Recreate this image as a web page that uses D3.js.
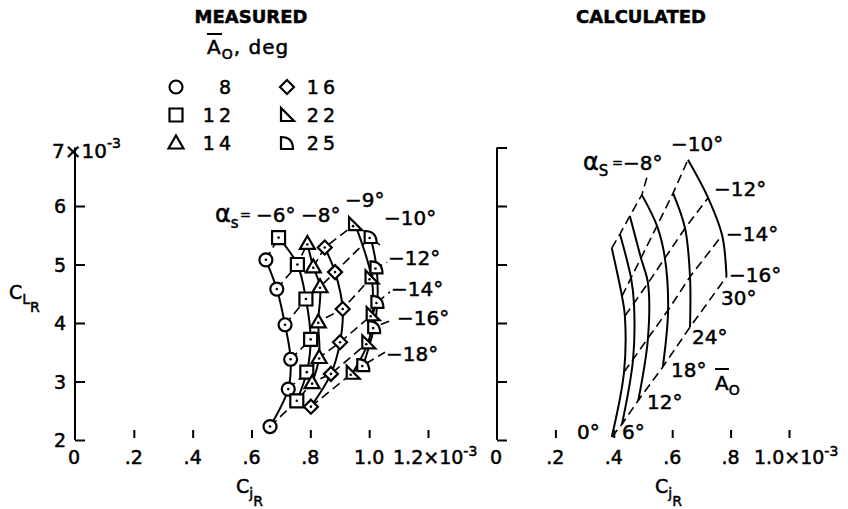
<!DOCTYPE html>
<meta charset="utf-8">
<title>Measured and calculated C_L vs C_j</title>
<style>
body { margin: 0; background: #fff; }
svg { font-family: "DejaVu Sans", sans-serif; }
text { fill: #000; stroke: #000; stroke-width: 0.5; }
.solid { fill: none; stroke: #000; stroke-width: 2; }
.dash { fill: none; stroke: #000; stroke-width: 1.6; stroke-dasharray: 9,5; }
.axis path, .axis line { stroke: #000; stroke-width: 2; }
</style>

<svg width="848" height="509"></svg>
<script src="https://d3js.org/d3.v7.min.js"></script>
<script>

// measured points: [Cj (x10^-3), CL (x10^-3), alpha_s]
var m8  = [[0.649,5.08,-6],[0.686,4.58,-8],[0.714,3.97,-10],[0.733,3.38,-12],[0.725,2.87,-14],[0.663,2.23,-16]];
var m12 = [[0.692,5.46,-6],[0.756,5.00,-8],[0.785,4.41,-10],[0.801,3.72,-12],[0.788,3.16,-14],[0.754,2.67,-16]];
var m14 = [[0.790,5.36,-8],[0.810,4.96,-9],[0.833,4.62,-10],[0.827,4.02,-12],[0.830,3.41,-14],[0.806,2.98,-16]];
var m16 = [[0.849,5.29,-9],[0.884,4.87,-10],[0.910,4.24,-12],[0.901,3.67,-14],[0.870,3.13,-16],[0.802,2.57,-18]];
var m22 = [[0.952,5.69,-9],[1.008,4.78,-12],[1.012,4.15,-14],[0.997,3.67,-16],[0.944,3.15,-18]];
var m25 = [[1.005,5.47,-10],[1.025,4.95,-12],[1.028,4.36,-14],[1.017,3.93,-16],[0.980,3.28,-18]];
var measuredAo = [8, 12, 14, 16, 22, 25];
var measuredSymbols = ["circle", "square", "triangle", "diamond", "rtri", "dee"];
// where the dashed alpha lines run out toward their labels
var measuredLeads = [[-10,1.037,5.33],[-12,1.061,5.04],[-14,1.071,4.53],[-16,1.078,4.05],[-18,1.054,3.50]];

// calculated curves, one per A0: [Cj, CL, alpha_s]
var c0  = [[0.393,5.28,-8],[0.428,4.46,-10],[0.438,4.12,-12],[0.435,3.16,-14],[0.393,2.05,-16]];
var c6  = [[0.421,5.52,-8],[0.459,4.77,-10],[0.469,4.34,-12],[0.466,3.38,-14],[0.428,2.27,-16]];
var c12 = [[0.455,5.83,-8],[0.493,5.11,-10],[0.517,4.68,-12],[0.517,3.74,-14],[0.484,2.68,-16]];
var c18 = [[0.496,6.19,-8],[0.548,5.66,-10],[0.575,5.11,-12],[0.586,4.22,-14],[0.568,3.25,-16]];
var c24 = [[0.603,6.22,-10],[0.644,5.62,-12],[0.661,4.79,-14],[0.661,3.93,-16]];
var c30 = [[0.654,6.79,-10],[0.723,6.14,-12],[0.771,5.50,-14],[0.786,4.79,-16]];
var calcAo = [0, 6, 12, 18, 24, 30];
var calcLeads = [[-8,0.514,6.50]];

var yTicks = [2, 3, 4, 5, 6, 7];
var xTicksLeft = [0, 0.2, 0.4, 0.6, 0.8, 1.0, 1.2];
var xLabelsLeft = ["0", ".2", ".4", ".6", ".8", "1.0", "1.2"];
var xTicksRight = [0, 0.2, 0.4, 0.6, 0.8, 1.0];
var xLabelsRight = ["0", ".2", ".4", ".6", ".8", "1.0"];

var svg = d3.select("svg");

var y = d3.scaleLinear().domain([2, 7]).range([440, 147.5]);
var xL = d3.scaleLinear().domain([0, 1.2]).range([75, 428]);
var xR = d3.scaleLinear().domain([0, 1.0]).range([497, 789]);

// ---- marker shapes
var shapes = {
  circle: "M6.5,0A6.5,6.5 0 1,1 -6.5,0A6.5,6.5 0 1,1 6.5,0Z",
  square: "M-6.5,-6.5H6.5V6.5H-6.5Z",
  triangle: "M0,-7.5L7.5,5.5H-7.5Z",
  diamond: "M0,-7L7,0L0,7L-7,0Z",
  rtri: "M-6,-7V6H7Z",
  dee: "M-6,6V-6Q6,-6 6,6Z"
};
var dotOffset = { circle: [0,0], square: [0,0], triangle: [0,1], diamond: [0,0], rtri: [-2,2], dee: [-1,1] };

function marker(g, type, px, py, dot) {
  g.append("path").attr("d", shapes[type])
    .attr("transform", "translate(" + px + "," + py + ")")
    .attr("fill", "#fff").attr("stroke", "#000").attr("stroke-width", 2.2);
  if (dot) {
    g.append("circle").attr("cx", px + dotOffset[type][0]).attr("cy", py + dotOffset[type][1])
      .attr("r", 1.3).attr("fill", "#000");
  }
}

// text with optional sub/superscript pieces: [[str, size, dy], ...]
function label(x0, y0, parts, anchor) {
  var t = svg.append("text").attr("x", x0).attr("y", y0).attr("text-anchor", anchor || "start");
  parts.forEach(function(p) {
    t.append("tspan").text(p[0]).attr("font-size", p[1]).attr("dy", p[2] || 0);
  });
  return t;
}

// ---- axes
function yAxis(x0, top) {
  var ax = d3.axisRight(y).tickValues(yTicks.filter(function(d) { return d <= top; }))
    .tickSize(10).tickSizeOuter(0).tickFormat("");
  var g = svg.append("g").attr("class", "axis").attr("transform", "translate(" + x0 + ",0)").call(ax);
  g.select(".domain").attr("d", "M0," + y(7) + "V" + y(2));
}
yAxis(xL(0), 6);
yAxis(xR(0), 7);

function xAxis(scale, ticks, labels) {
  var ax = d3.axisBottom(scale).tickValues(ticks.slice(1)).tickSize(8).tickFormat("");
  var g = svg.append("g").attr("class", "axis").attr("transform", "translate(0,430)").call(ax);
  g.select(".domain").remove();
  g.selectAll("line").attr("stroke-width", 1.6);
  ticks.forEach(function(v, i) {
    if (i < ticks.length - 1) {
      label(scale(v) + (i === 0 ? -1 : 0), 464, [[labels[i], 19]], "middle");
    } else {
      label(scale(v) - 35, 464, [[labels[i], 19], ["\u00d710", 19], ["-3", 14, -8]]);
    }
  });
}
xAxis(xL, xTicksLeft, xLabelsLeft);
xAxis(xR, xTicksRight, xLabelsRight);

// y tick labels (left only)
yTicks.slice(0, 5).forEach(function(v) {
  label(66, y(v) + 7, [[String(v), 19]], "end");
});
label(52, 158, [["7\u00d710", 20], ["-3", 14, -10]]);

// axis titles
label(9, 299, [["C", 19], ["L", 14, 5], ["R", 14, 8]]);
label(236, 493, [["C", 19], ["j", 14, 5], ["R", 14, 8]]);
label(655, 493, [["C", 19], ["j", 14, 5], ["R", 14, 8]]);

// headings
label(251, 23, [["MEASURED", 18]], "middle").attr("font-weight", "bold").attr("stroke-width", 0);
label(641, 23, [["CALCULATED", 18]], "middle").attr("font-weight", "bold").attr("stroke-width", 0);
label(207, 54, [["A", 20], ["O", 14, 5], [", deg", 20, -5]]).attr("letter-spacing", 1);
svg.append("line").attr("x1", 207).attr("x2", 222).attr("y1", 34).attr("y2", 34)
  .attr("stroke", "#000").attr("stroke-width", 2);

// legend
var lg = svg.append("g");
measuredAo.forEach(function(a, i) {
  var col = i < 3 ? 0 : 1, row = i % 3;
  marker(lg, measuredSymbols[i], col ? 287 : 176, 87 + row * 28, false);
  label(col ? 339 : 235, 94 + row * 28, [[String(a), 19]], "end").attr("letter-spacing", 4);
});

// ---- measured plot
var measured = [m8, m12, m14, m16, m22, m25];
var lineL = d3.line().x(function(d) { return xL(d[0]); }).y(function(d) { return y(d[1]); });
var curveL = d3.line().curve(d3.curveCatmullRom).x(function(d) { return xL(d[0]); }).y(function(d) { return y(d[1]); });

function alphaGroups(series, leads) {
  var groups = d3.group(series.flat(), function(d) { return d[2]; });
  var out = [];
  groups.forEach(function(pts, a) {
    pts = pts.slice().sort(function(p, q) { return p[0] - q[0]; });
    leads.forEach(function(l) { if (l[0] === a) pts.push([l[1], l[2], a]); });
    if (pts.length > 1) out.push(pts);
  });
  return out;
}

var gm = svg.append("g");
gm.selectAll(".dashm").data(alphaGroups(measured, measuredLeads)).enter().append("path")
  .attr("class", "dash").attr("d", lineL);
gm.selectAll(".solidm").data(measured).enter().append("path")
  .attr("class", "solid").attr("d", curveL);
measured.forEach(function(s, i) {
  s.forEach(function(d) { marker(gm, measuredSymbols[i], xL(d[0]), y(d[1]), true); });
});

var fs = 20;
label(215, 222, [["\u03b1", 24], ["s", 15, 6]]);
label(240, 219, [["=", 13]]);
label(256, 222, [["\u22126\u00b0", fs]]);
label(301, 222, [["\u22128\u00b0", fs]]);
label(345, 207, [["\u22129\u00b0", fs]]);
label(384, 225, [["\u221210\u00b0", fs]]);
label(388, 265, [["\u221212\u00b0", fs]]);
label(391, 296, [["\u221214\u00b0", fs]]);
label(397, 325, [["\u221216\u00b0", fs]]);
label(386, 361, [["\u221218\u00b0", fs]]);

// ---- calculated plot
var calc = [c0, c6, c12, c18, c24, c30];
var lineR = d3.line().x(function(d) { return xR(d[0]); }).y(function(d) { return y(d[1]); });
var curveR = d3.line().curve(d3.curveCatmullRom).x(function(d) { return xR(d[0]); }).y(function(d) { return y(d[1]); });

var gc = svg.append("g");
gc.selectAll(".dashc").data(alphaGroups(calc, calcLeads)).enter().append("path")
  .attr("class", "dash").attr("d", lineR);
gc.selectAll(".solidc").data(calc).enter().append("path")
  .attr("class", "solid").attr("d", curveR);

label(583, 170, [["\u03b1", 24], ["S", 15, 6]]);
label(612, 167, [["=", 13]]);
label(623, 170, [["\u22128\u00b0", fs]]);
label(671, 151, [["\u221210\u00b0", fs]]);
label(714, 196, [["\u221212\u00b0", fs]]);
label(726, 241, [["\u221214\u00b0", fs]]);
label(729, 282, [["\u221216\u00b0", fs]]);
label(721, 305, [["30\u00b0", fs]]);
label(692, 344, [["24\u00b0", fs]]);
label(671, 377, [["18\u00b0", fs]]);
label(647, 409, [["12\u00b0", fs]]);
label(577, 439, [["0\u00b0", fs]]);
label(622, 439, [["6\u00b0", fs]]);
label(715, 390, [["A", 20], ["O", 14, 5]]);
svg.append("line").attr("x1", 715).attr("x2", 729).attr("y1", 369).attr("y2", 369)
  .attr("stroke", "#000").attr("stroke-width", 2);

</script>
